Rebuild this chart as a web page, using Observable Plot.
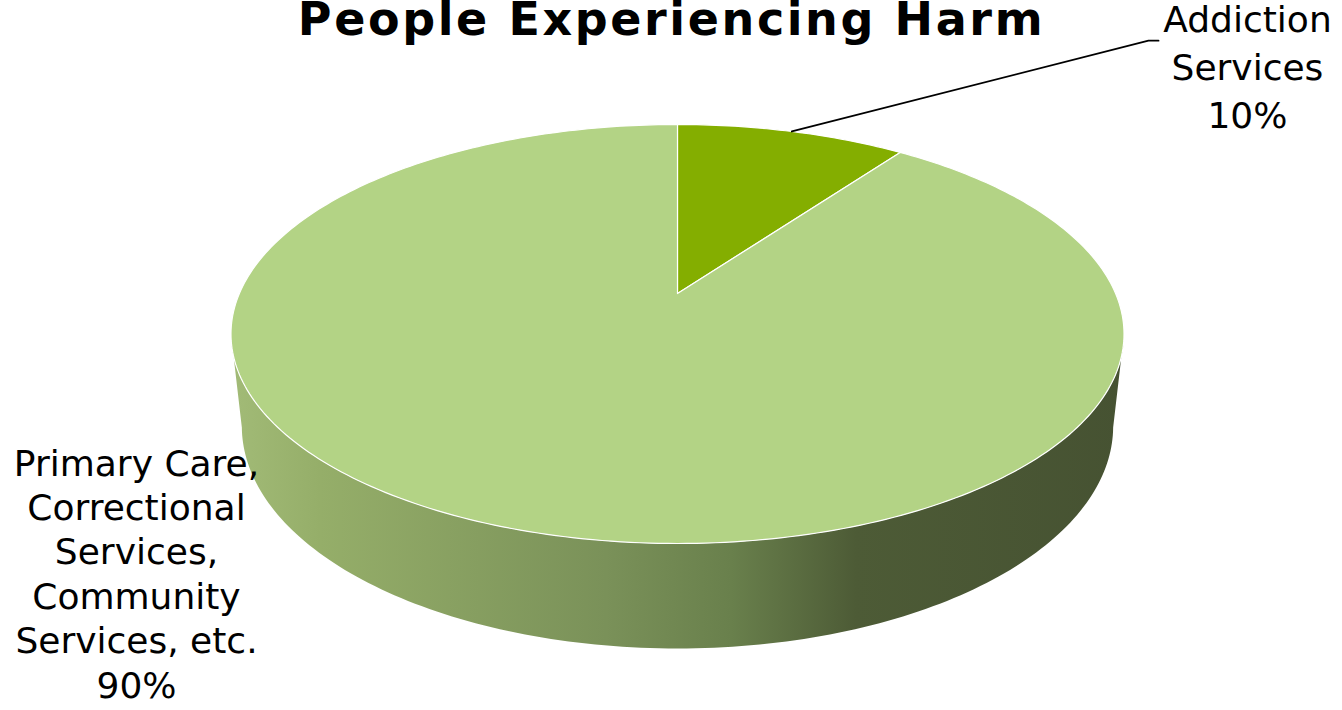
<!DOCTYPE html>
<html><head><meta charset="utf-8">
<script src="https://cdn.jsdelivr.net/npm/d3@7"></script>
<script src="https://cdn.jsdelivr.net/npm/@observablehq/plot@0.6"></script>
<style>html,body{margin:0;padding:0;background:#fff;overflow:hidden}</style>
</head><body><div id="chart"></div>
<script>
// ---- data ----
const title = "People Experiencing Harm";
const categories = ["Addiction Services", "Primary Care, Correctional Services, Community Services, etc."];
const labelLines = [["Addiction", "Services"], ["Primary Care,", "Correctional", "Services,", "Community", "Services, etc."]];
const values = [10, 90];
const topColors = ["#84ae00", "#b3d385"];
const sideStops = [
  [[0, "#6e9200"], [1, "#3e5200"]],
  [[0, "#a2bb77"], [0.1, "#95ae69"], [0.42, "#7a9159"], [0.56, "#69804c"], [0.7, "#4d5b36"], [1, "#465232"]]
];
// label anchors in pie units (radius = 1), line spacing, and leader elbows
const labelPos = [[1.301, -0.5213], [-1.2349, 0.6368]];
const labelLineHeight = [1.333, 1.233];
const leaderElbows = [[[1.075, -0.577], [1.098, -0.577]], null];

// ---- layout ----
const W = 1342, H = 710;
const center = [677, 293];
const unit = 438.1;
const tiltSin = 0.4603, tiltCos = 0.8877, camDist = 4.592, thickness = 0.2397;

function project(theta, h) {
  const X = Math.sin(theta), v = Math.cos(theta);
  const depth = camDist + tiltCos * v + tiltSin * h;
  const up = tiltSin * v - tiltCos * h;
  return {x: X * camDist / depth, y: -up * camDist / depth};
}
function arcPts(a0, a1, h) {
  const n = Math.max(2, Math.ceil((a1 - a0) / (Math.PI / 180)));
  return d3.range(n + 1).map(k => project(a0 + (a1 - a0) * k / n, h));
}

const total = d3.sum(values);
let acc = 0;
const k = tiltCos / camDist;
const front = [Math.acos(-k), 2 * Math.PI - Math.acos(-k)];
const slices = values.map((v, i) => {
  const a0 = acc / total * 2 * Math.PI; acc += v;
  const a1 = acc / total * 2 * Math.PI;
  const top = [{x: 0, y: 0}, ...arcPts(a0, a1, 0), {x: 0, y: 0}];
  const s0 = Math.max(a0, front[0]), s1 = Math.min(a1, front[1]);
  const side = s1 > s0 ? [...arcPts(s0, s1, 0), ...arcPts(s0, s1, thickness).reverse()] : [];
  const mid = (a0 + a1) / 2;
  const leader = leaderElbows[i] ? [project(mid, 0), ...leaderElbows[i].map(([x, y]) => ({x, y}))] : [];
  const pct = Math.round(v / total * 100) + "%";
  return {i, top, side, leader, label: {x: labelPos[i][0], y: labelPos[i][1], text: [...labelLines[i], pct].join("\n")}};
});

const font = "'DejaVu Sans', sans-serif";
const plot = Plot.plot({
  width: W, height: H, margin: 0,
  x: {domain: [-center[0] / unit, (W - center[0]) / unit], axis: null},
  y: {domain: [-center[1] / unit, (H - center[1]) / unit], range: [0, H], axis: null},
  style: {background: "white", overflow: "visible"},
  marks: [
    ...slices.filter(s => s.side.length).map(s => Plot.line(s.side, {x: "x", y: "y", fill: `url(#side-${s.i})`, stroke: "none"})),
    ...slices.map(s => Plot.line(s.top, {x: "x", y: "y", fill: topColors[s.i], stroke: "white", strokeWidth: 1.2, strokeLinejoin: "round"})),
    ...slices.filter(s => s.leader.length).map(s => Plot.line(s.leader, {x: "x", y: "y", stroke: "black", strokeWidth: 1.8})),
    ...slices.map(s => Plot.text([s.label], {x: "x", y: "y", text: "text", fontSize: 36, fontFamily: font, lineHeight: labelLineHeight[s.i], textAnchor: "middle", lineAnchor: "middle", fill: "black"})),
    Plot.text([title], {frameAnchor: "top", text: d => d, dy: 34, lineAnchor: "bottom", fontSize: 46, fontWeight: "bold", fontFamily: font, fill: "black"})
  ]
});
const defs = d3.select(plot).insert("defs", ":first-child");
sideStops.forEach((stops, i) => {
  const g = defs.append("linearGradient").attr("id", `side-${i}`).attr("x1", 0).attr("x2", 1).attr("y1", 0).attr("y2", 0);
  stops.forEach(([o, c]) => g.append("stop").attr("offset", o).attr("stop-color", c));
});
d3.select(plot).selectAll("text").filter(function() { return this.textContent === title; }).style("letter-spacing", "2.6px");
document.getElementById("chart").appendChild(plot);
</script>
</body></html>
